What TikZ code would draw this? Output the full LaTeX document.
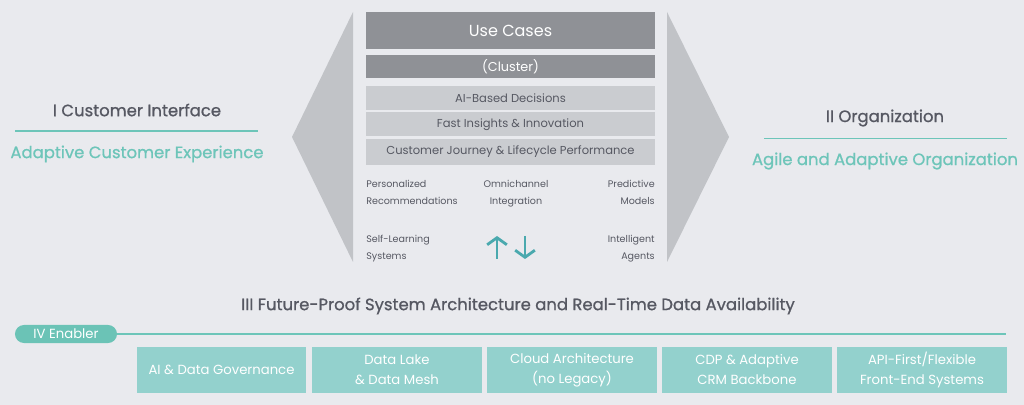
\documentclass[tikz,border=0pt]{standalone}
\usepackage{fontspec}
\setmainfont{Poppins}
\newfontfamily\medio[FakeBold=0.9]{Poppins}
\usepackage{xcolor}
\usetikzlibrary{positioning, arrows.meta}

\definecolor{fondo}{HTML}{E9EAEE}
\definecolor{gris}{HTML}{C1C3C7}
\definecolor{grisosc}{HTML}{8F9196}
\definecolor{grisclaro}{HTML}{CACCD0}
\definecolor{texto}{HTML}{565862}
\definecolor{turq}{HTML}{6DC5B9}
\definecolor{turqcaja}{HTML}{93D1CD}
\definecolor{turqpill}{HTML}{6BC3B6}
\definecolor{turqflecha}{HTML}{4AA9AE}

\tikzset{
  barra/.style={fill=grisosc, text=white, minimum width=7.225cm, inner sep=0pt},
  barraclara/.style={fill=grisclaro, text=texto, minimum width=7.225cm, minimum height=0.6cm, inner sep=0pt, font=\fontsize{8.2}{10}\selectfont},
  chico/.style={text=texto, inner sep=0pt, font=\fontsize{6.8}{12}\selectfont},
  titulo/.style={text=texto, inner sep=0pt, font=\medio\fontsize{11.7}{14}\selectfont},
  subtitulo/.style={text=turq, inner sep=0pt, font=\medio\fontsize{11.7}{14}\selectfont},
  caja/.style={fill=turqcaja, text=white, minimum width=4.225cm, minimum height=1.125cm, inner sep=0pt, align=center, font=\fontsize{9.4}{14.2}\selectfont},
  flecha/.style={turqflecha, line width=2pt, -{Straight Barb[length=5pt,width=14pt]}}
}

\begin{document}
\begin{tikzpicture}[x=0.025cm, y=-0.025cm]
        % Fondo
        \fill[fondo] (0,0) rectangle (1024,405);
        \useasboundingbox (0,0) rectangle (1024,405);
        % Flechas grises (izquierda y derecha)
        \fill[gris] (353,12) -- (292,137) -- (353,262) -- cycle;
        \fill[gris] (667,12) -- (729,137) -- (667,262) -- cycle;
        % Bloque central
        \node[barra, minimum height=0.925cm, font=\fontsize{11.4}{13}\selectfont] (usecases) at (510.5,30.5) {Use Cases};
        \node[barra, minimum height=0.575cm, font=\fontsize{9.1}{11}\selectfont] (cluster) at (510.5,66.5) {(Cluster)};
        \node[barraclara] (decisions) at (510.5,98) {AI-Based Decisions};
        \node[barraclara] (insights) at (510.5,124.5) {Fast Insights \& Innovation};
        \node[barraclara, minimum height=0.65cm] (journey) at (510.5,152) {Customer Journey \& Lifecycle Performance};
        % Textos pequeños
        \node[chico, anchor=north west, align=left] (personal) at (366,180) {Personalized\\Recommendations};
        \node[chico, anchor=north, align=center] (omni) at (516,180) {Omnichannel\\Integration};
        \node[chico, anchor=north east, align=right] (predict) at (655,180) {Predictive\\Models};
        \node[chico, anchor=north west, align=left] (selflearn) at (366,235) {Self-Learning\\Systems};
        \node[chico, anchor=north east, align=right] (agents) at (655,235) {Intelligent\\Agents};
        % Flechas arriba / abajo
        \draw[flecha] (497,259) -- (497,236);
        \draw[flecha] (525,236) -- (525,259);
        % I Customer Interface
        \node[titulo] (interface) at (137,110) {I Customer Interface};
        \coordinate (li1) at (15,131);
        \coordinate (li2) at (258,131);
        \draw[turq, line width=1.3pt] (li1) -- (li2);
        \node[subtitulo] (experience) at (137,154) {Adaptive Customer Experience};
        % II Organization
        \node[titulo] (organization) at (885,118) {II Organization};
        \coordinate (ld1) at (764,138.5);
        \coordinate (ld2) at (1007,138.5);
        \draw[turq, line width=1.3pt] (ld1) -- (ld2);
        \node[subtitulo] (agile) at (885,161) {Agile and Adaptive Organization};
        % III Arquitectura
        \node[titulo] (future) at (518,306) {III Future-Proof System Architecture and Real-Time Data Availability};
        % IV Enabler
        \node[fill=turqpill, text=white, rounded corners=0.225cm, minimum width=2.55cm, minimum height=0.45cm, inner sep=0pt, font=\fontsize{9.4}{11}\selectfont] (enabler) at (66,334) {IV Enabler};
        \coordinate (finlinea) at (1006,334);
        \draw[turq, line width=1pt] (enabler.east) -- (finlinea);
        % Cajas inferiores
        \node[caja] (gov) at (221.5,370) {AI \& Data Governance};
        \node[caja] (lake) at (397,370) {Data Lake\\\& Data Mesh};
        \node[caja] (cloud) at (572,370) {Cloud Architecture\\(no Legacy)};
        \node[caja] (cdp) at (747,370) {CDP \& Adaptive\\CRM Backbone};
        \node[caja] (api) at (922,370) {API-First/Flexible\\Front-End Systems};
\end{tikzpicture}
\end{document}
